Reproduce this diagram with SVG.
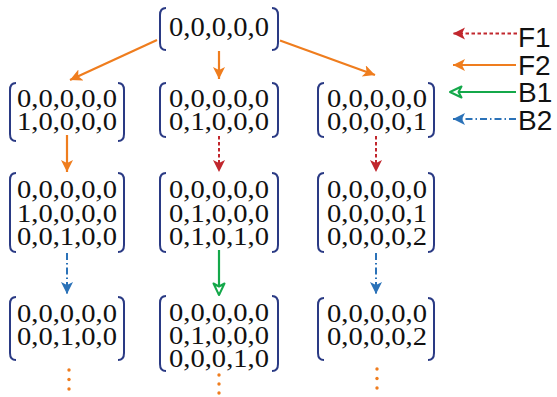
<svg xmlns="http://www.w3.org/2000/svg" width="557" height="397" viewBox="0 0 557 397">
  <style>
    .br { fill: none; stroke: #2a3a84; stroke-width: 2; }
    .m { font-family: "Liberation Serif", "Times New Roman", serif; font-size: 25px; fill: #111; text-anchor: middle; }
    .root { font-size: 27px; }
    .lg { font-family: "Liberation Sans", Arial, sans-serif; font-size: 28px; fill: #111; }
    .f1 { stroke: #c1272d; stroke-width: 2; stroke-dasharray: 3.5 2.5; fill: none; }
    .f2 { stroke: #ef7d1e; stroke-width: 2.2; fill: none; }
    .b1 { stroke: #14a84a; stroke-width: 2.2; fill: none; }
    .b2 { stroke: #2b72b8; stroke-width: 2; stroke-dasharray: 7 3 1.5 3; fill: none; }
    .dot { fill: #ef7d1e; }
  </style>
  <defs>
    <marker id="hF1" markerUnits="userSpaceOnUse" markerWidth="14" markerHeight="14" refX="12" refY="6" orient="auto">
      <path d="M0,0 L12,6 L0,12 L3,6 Z" fill="#c1272d"/>
    </marker>
    <marker id="hF2" markerUnits="userSpaceOnUse" markerWidth="14" markerHeight="14" refX="12" refY="6" orient="auto">
      <path d="M0,0 L12,6 L0,12 L3,6 Z" fill="#ef7d1e"/>
    </marker>
    <marker id="hB1" markerUnits="userSpaceOnUse" markerWidth="16" markerHeight="16" refX="13" refY="7" orient="auto">
      <path d="M1.5,1.5 L13,7 L1.5,12.5 L4.5,7 Z" fill="#fff" stroke="#14a84a" stroke-width="2" stroke-linejoin="round"/>
    </marker>
    <marker id="hB2" markerUnits="userSpaceOnUse" markerWidth="14" markerHeight="14" refX="12" refY="6" orient="auto">
      <path d="M0,0 L12,6 L0,12 L3,6 Z" fill="#2b72b8"/>
    </marker>
  </defs>

  <!-- connectors between states -->
  <g id="connectors">
    <line class="f2" x1="157" y1="40" x2="70" y2="80" marker-end="url(#hF2)"/>
    <line class="f2" x1="219" y1="51" x2="219" y2="79" marker-end="url(#hF2)"/>
    <line class="f2" x1="280" y1="40.5" x2="375" y2="75" marker-end="url(#hF2)"/>
    <line class="f2" x1="67" y1="135" x2="67" y2="172" marker-end="url(#hF2)"/>
    <line class="f1" x1="219" y1="136" x2="219" y2="172" marker-end="url(#hF1)"/>
    <line class="f1" x1="376" y1="136" x2="376" y2="172" marker-end="url(#hF1)"/>
    <line class="b2" x1="67" y1="253" x2="67" y2="294" marker-end="url(#hB2)"/>
    <line class="b1" x1="219" y1="250" x2="219" y2="295" marker-end="url(#hB1)"/>
    <line class="b2" x1="376" y1="253" x2="376" y2="294" marker-end="url(#hB2)"/>
  </g>

  <!-- root state -->
  <g id="n0">
    <path class="br" d="M166,8 Q160,8 160,15 L160,43 Q160,50 166,50"/>
    <path class="br" d="M272,8 Q278,8 278,15 L278,43 Q278,50 272,50"/>
    <text class="m root" x="219" y="36" textLength="100" lengthAdjust="spacingAndGlyphs">0,0,0,0,0</text>
  </g>

  <!-- second level -->
  <g id="n1">
    <path class="br" d="M16,83 Q10,83 10,90 L10,134 Q10,141 16,141"/>
    <path class="br" d="M118,83 Q124,83 124,90 L124,134 Q124,141 118,141"/>
    <text class="m" x="67" y="106.5" textLength="100" lengthAdjust="spacingAndGlyphs">0,0,0,0,0</text>
    <text class="m" x="67" y="130" textLength="100" lengthAdjust="spacingAndGlyphs">1,0,0,0,0</text>
  </g>
  <g id="n2">
    <path class="br" d="M166,83 Q160,83 160,90 L160,130 Q160,137 166,137"/>
    <path class="br" d="M272,83 Q278,83 278,90 L278,130 Q278,137 272,137"/>
    <text class="m" x="219" y="106.5" textLength="100" lengthAdjust="spacingAndGlyphs">0,0,0,0,0</text>
    <text class="m" x="219" y="130" textLength="100" lengthAdjust="spacingAndGlyphs">0,1,0,0,0</text>
  </g>
  <g id="n3">
    <path class="br" d="M324,83 Q318,83 318,90 L318,130 Q318,137 324,137"/>
    <path class="br" d="M428,83 Q434,83 434,90 L434,130 Q434,137 428,137"/>
    <text class="m" x="377" y="106.5" textLength="100" lengthAdjust="spacingAndGlyphs">0,0,0,0,0</text>
    <text class="m" x="377" y="130" textLength="100" lengthAdjust="spacingAndGlyphs">0,0,0,0,1</text>
  </g>

  <!-- third level -->
  <g id="n4">
    <path class="br" d="M16,173 Q10,173 10,180 L10,245 Q10,252 16,252"/>
    <path class="br" d="M118,173 Q124,173 124,180 L124,245 Q124,252 118,252"/>
    <text class="m" x="67" y="198" textLength="100" lengthAdjust="spacingAndGlyphs">0,0,0,0,0</text>
    <text class="m" x="67" y="221.5" textLength="100" lengthAdjust="spacingAndGlyphs">1,0,0,0,0</text>
    <text class="m" x="67" y="245" textLength="100" lengthAdjust="spacingAndGlyphs">0,0,1,0,0</text>
  </g>
  <g id="n5">
    <path class="br" d="M166,173 Q160,173 160,180 L160,245 Q160,252 166,252"/>
    <path class="br" d="M272,173 Q278,173 278,180 L278,245 Q278,252 272,252"/>
    <text class="m" x="219" y="198" textLength="100" lengthAdjust="spacingAndGlyphs">0,0,0,0,0</text>
    <text class="m" x="219" y="221.5" textLength="100" lengthAdjust="spacingAndGlyphs">0,1,0,0,0</text>
    <text class="m" x="219" y="245" textLength="100" lengthAdjust="spacingAndGlyphs">0,1,0,1,0</text>
  </g>
  <g id="n6">
    <path class="br" d="M324,173 Q318,173 318,180 L318,245 Q318,252 324,252"/>
    <path class="br" d="M428,173 Q434,173 434,180 L434,245 Q434,252 428,252"/>
    <text class="m" x="377" y="198" textLength="100" lengthAdjust="spacingAndGlyphs">0,0,0,0,0</text>
    <text class="m" x="377" y="221.5" textLength="100" lengthAdjust="spacingAndGlyphs">0,0,0,0,1</text>
    <text class="m" x="377" y="245" textLength="100" lengthAdjust="spacingAndGlyphs">0,0,0,0,2</text>
  </g>

  <!-- fourth level -->
  <g id="n7">
    <path class="br" d="M16,297 Q10,297 10,304 L10,353 Q10,360 16,360"/>
    <path class="br" d="M118,297 Q124,297 124,304 L124,353 Q124,360 118,360"/>
    <text class="m" x="67" y="321.5" textLength="100" lengthAdjust="spacingAndGlyphs">0,0,0,0,0</text>
    <text class="m" x="67" y="345" textLength="100" lengthAdjust="spacingAndGlyphs">0,0,1,0,0</text>
    <circle class="dot" cx="69" cy="370" r="1.7"/>
    <circle class="dot" cx="69" cy="379.5" r="1.7"/>
    <circle class="dot" cx="69" cy="389" r="1.7"/>
  </g>
  <g id="n8">
    <path class="br" d="M166,296 Q160,296 160,303 L160,364 Q160,371 166,371"/>
    <path class="br" d="M272,296 Q278,296 278,303 L278,364 Q278,371 272,371"/>
    <text class="m" x="219" y="320.5" textLength="100" lengthAdjust="spacingAndGlyphs">0,0,0,0,0</text>
    <text class="m" x="219" y="343.5" textLength="100" lengthAdjust="spacingAndGlyphs">0,1,0,0,0</text>
    <text class="m" x="219" y="366.5" textLength="100" lengthAdjust="spacingAndGlyphs">0,0,0,1,0</text>
    <circle class="dot" cx="219" cy="375" r="1.7"/>
    <circle class="dot" cx="219" cy="384" r="1.7"/>
    <circle class="dot" cx="219" cy="393" r="1.7"/>
  </g>
  <g id="n9">
    <path class="br" d="M324,298 Q318,298 318,305 L318,353 Q318,360 324,360"/>
    <path class="br" d="M428,298 Q434,298 434,305 L434,353 Q434,360 428,360"/>
    <text class="m" x="377" y="321.5" textLength="100" lengthAdjust="spacingAndGlyphs">0,0,0,0,0</text>
    <text class="m" x="377" y="345" textLength="100" lengthAdjust="spacingAndGlyphs">0,0,0,0,2</text>
    <circle class="dot" cx="377" cy="369" r="1.7"/>
    <circle class="dot" cx="377" cy="378.5" r="1.7"/>
    <circle class="dot" cx="377" cy="388" r="1.7"/>
  </g>

  <!-- legend -->
  <g id="legend">
    <line class="f1" x1="517" y1="33.5" x2="453" y2="33.5" marker-end="url(#hF1)"/>
    <text class="lg" x="518" y="47">F1</text>
    <line class="f2" x1="516" y1="65" x2="453" y2="65" marker-end="url(#hF2)"/>
    <text class="lg" x="518" y="74.5">F2</text>
    <line class="b1" x1="516" y1="92" x2="450" y2="92" marker-end="url(#hB1)"/>
    <text class="lg" x="518" y="102">B1</text>
    <line class="b2" x1="516" y1="119" x2="453" y2="119" marker-end="url(#hB2)"/>
    <text class="lg" x="518" y="129.5">B2</text>
  </g>
</svg>
